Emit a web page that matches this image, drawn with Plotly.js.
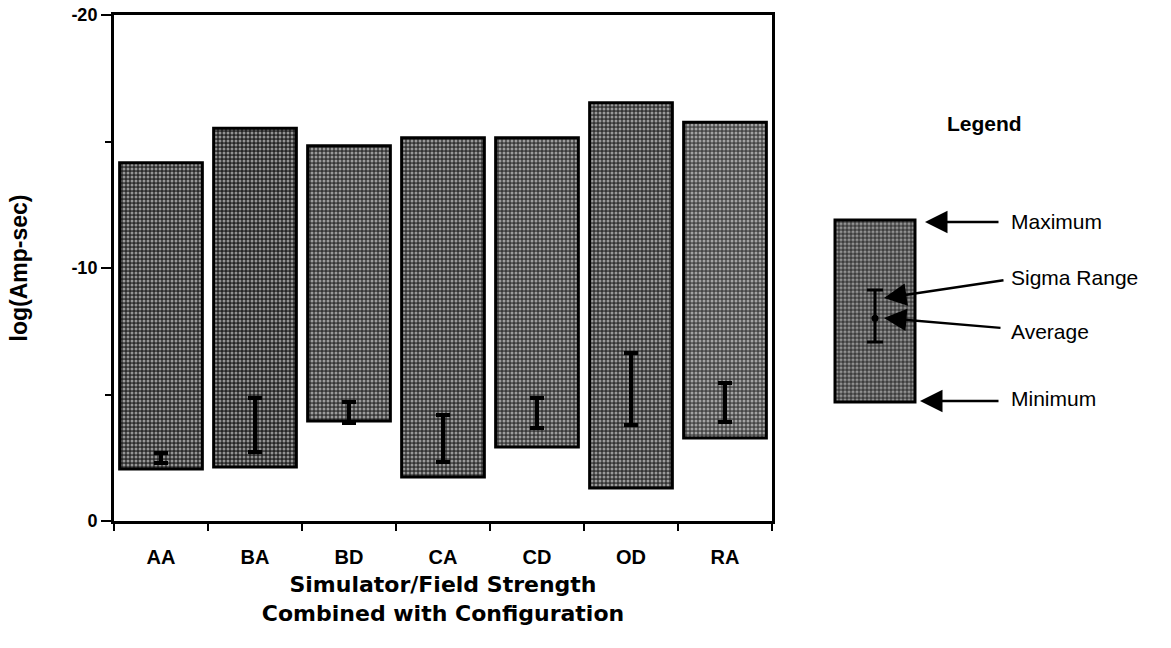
<!DOCTYPE html>
<html>
<head>
<meta charset="utf-8">
<script src="https://cdn.plot.ly/plotly-3.0.1.min.js"></script>
<style>
  html, body { margin: 0; padding: 0; background: #fff; }
  #chart { width: 1171px; height: 648px; }
</style>
</head>
<body>
<div id="chart"></div>
<script>
// Simulator/field-strength + configuration groups
const categories = ['AA', 'BA', 'BD', 'CA', 'CD', 'OD', 'RA'];

// log(Amp-sec) extremes for each group
const minLog = [-2.06, -2.13, -3.95, -1.74, -2.92, -1.30, -3.28];
const maxLog = [-14.16, -15.52, -14.83, -15.15, -15.15, -16.53, -15.76];

// average and one-sigma band
const avgLog = [-2.50, -3.80, -4.30, -3.25, -4.25, -5.20, -4.70];
const sigmaLow = [-2.29, -2.73, -3.87, -2.33, -3.68, -3.79, -3.91];
const sigmaHigh = [-2.69, -4.86, -4.70, -4.19, -4.86, -6.64, -5.45];

// y tick labels
const yTickVals = [-20, -10, 0];
const yTickText = ['-20', '-10', '0'];

// key glyph (unit scale: 0 = minimum, 1 = maximum)
const keyAvg = [0.46];
const keySigmaLow = [0.33];
const keySigmaHigh = [0.615];

const FONT = 'Liberation Sans, Arial, Helvetica, sans-serif';
const WIDE = 'DejaVu Sans, Liberation Sans, sans-serif';
const barShades = ['#2c2c2c', '#262626', '#363636', '#333333', '#3a3a3a', '#343434', '#464646'];

const rangeBars = {
  type: 'bar',
  x: categories,
  base: minLog,
  y: maxLog.map((v, i) => v - minLog[i]),
  xaxis: 'x', yaxis: 'y',
  marker: {
    color: barShades,
    line: { color: '#000', width: 3 },
    pattern: { shape: '.', fillmode: 'overlay', fgcolor: '#d9d9d9', size: 4, solidity: 0.45 }
  },
  hoverinfo: 'skip',
  showlegend: false
};

const sigmaBars = {
  type: 'scatter',
  mode: 'markers',
  x: categories,
  y: avgLog,
  xaxis: 'x', yaxis: 'y',
  marker: { size: 2, color: '#000' },
  error_y: {
    type: 'data', symmetric: false,
    array: sigmaLow.map((v, i) => v - avgLog[i]),
    arrayminus: avgLog.map((v, i) => v - sigmaHigh[i]),
    color: '#000', thickness: 4, width: 7
  },
  hoverinfo: 'skip',
  showlegend: false
};

const keyBar = {
  type: 'bar',
  x: [0], base: [0], y: [1], width: [1],
  xaxis: 'x2', yaxis: 'y2',
  marker: {
    color: '#3a3a3a',
    line: { color: '#000', width: 3 },
    pattern: { shape: '.', fillmode: 'overlay', fgcolor: '#e6e6e6', size: 4, solidity: 0.5 }
  },
  hoverinfo: 'skip',
  showlegend: false
};

const keySigma = {
  type: 'scatter', mode: 'markers',
  x: [0], y: keyAvg,
  xaxis: 'x2', yaxis: 'y2',
  marker: { size: 7, color: '#000' },
  error_y: {
    type: 'data', symmetric: false,
    array: [keySigmaHigh[0] - keyAvg[0]],
    arrayminus: [keyAvg[0] - keySigmaLow[0]],
    color: '#000', thickness: 3, width: 8
  },
  hoverinfo: 'skip',
  showlegend: false
};

// pixel helpers for paper placement of the key annotations
const L = 114, T = 15, R = 11, B = 127, W = 1171, H = 648;
const PW = W - L - R, PH = H - T - B;
const px = v => (v - L) / PW;
const py = v => (H - B - v) / PH;

function arrow(tipX, tipY, tailX, tailY) {
  return {
    xref: 'paper', yref: 'paper', x: px(tipX), y: py(tipY),
    ax: tailX - tipX, ay: tailY - tipY,
    text: '', showarrow: true,
    arrowhead: 2, arrowsize: 1.8, arrowwidth: 2.5, arrowcolor: '#000', standoff: 0
  };
}
function label(text, x, y, opts) {
  return Object.assign({
    xref: 'paper', yref: 'paper', x: px(x), y: py(y),
    xanchor: 'left', yanchor: 'middle', showarrow: false, text: text,
    font: { family: FONT, size: 21, color: '#000' }
  }, opts || {});
}

const layout = {
  width: W, height: H,
  margin: { l: L, r: R, t: T, b: B, pad: 0 },
  paper_bgcolor: '#fff', plot_bgcolor: '#fff',
  bargap: 0.12,
  showlegend: false,
  font: { family: FONT, color: '#000' },
  xaxis: {
    domain: [0, 658 / PW],
    type: 'category',
    tickson: 'boundaries',
    ticks: 'outside', ticklen: 7, tickwidth: 2, tickcolor: '#000',
    showline: true, linecolor: '#000', linewidth: 3, mirror: true,
    showgrid: false, zeroline: false,
    tickfont: { family: FONT, size: 20, weight: 'bold', color: '#000' },
    ticklabelstandoff: 16,
    title: {
      text: 'Simulator/Field Strength<br>Combined with Configuration',
      font: { family: WIDE, size: 22, weight: 'bold', color: '#000' },
      standoff: 10
    },
    automargin: false,
    fixedrange: true
  },
  yaxis: {
    domain: [0, 1],
    range: [0, -20],
    tickvals: yTickVals, ticktext: yTickText,
    ticks: 'outside', ticklen: 10, tickwidth: 2, tickcolor: '#000',
    minor: { dtick: 5, tick0: 0, ticks: 'outside', ticklen: 6, tickwidth: 2, tickcolor: '#000', showgrid: false },
    showline: true, linecolor: '#000', linewidth: 3, mirror: true,
    showgrid: false, zeroline: false,
    tickfont: { family: FONT, size: 18, weight: 'bold', color: '#000' },
    title: {
      text: 'log(Amp-sec)',
      font: { family: FONT, size: 23, weight: 'bold', color: '#000' },
      standoff: 38
    },
    automargin: false,
    fixedrange: true
  },
  xaxis2: {
    domain: [px(827), px(923)],
    anchor: 'y2',
    range: [-0.6, 0.6],
    visible: false, fixedrange: true
  },
  yaxis2: {
    domain: [py(420.2), py(201.8)],
    anchor: 'x2',
    range: [-0.1, 1.1],
    visible: false, fixedrange: true
  },
  annotations: [
    label('Legend', 984, 124, { xanchor: 'center', font: { family: FONT, size: 21, weight: 'bold', color: '#000' } }),
    arrow(925, 222, 1000, 222),
    arrow(884, 298, 1005, 280),
    arrow(884, 318, 1002, 328),
    arrow(920, 401, 1000, 401),
    label('Maximum', 1009, 222),
    label('Sigma Range', 1009, 277),
    label('Average', 1009, 332),
    label('Minimum', 1009, 398)
  ]
};

Plotly.newPlot('chart', [rangeBars, sigmaBars, keyBar, keySigma], layout, { staticPlot: true, displayModeBar: false });
</script>
</body>
</html>
